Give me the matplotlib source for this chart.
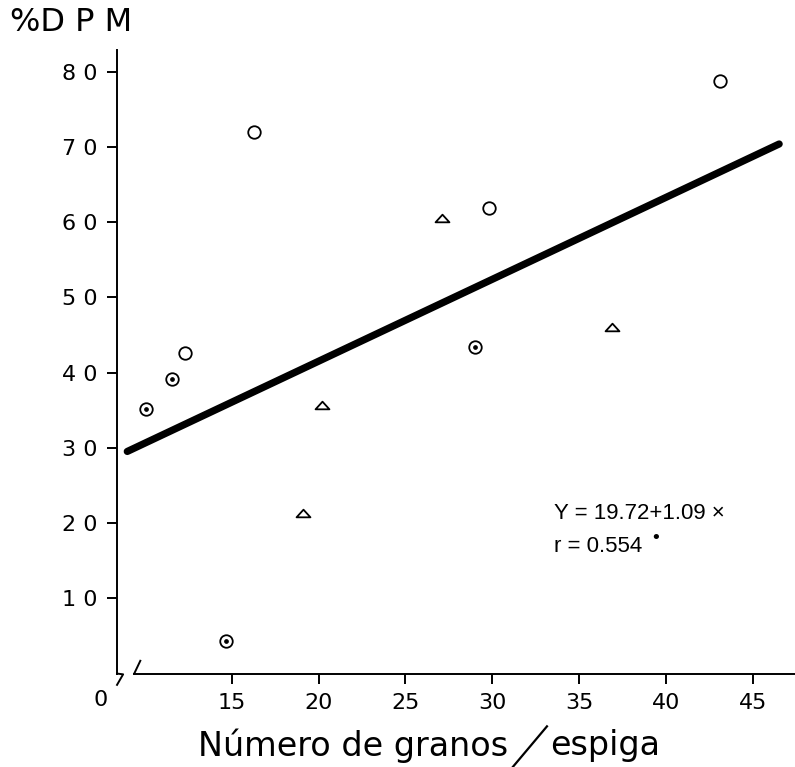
import numpy as np
import matplotlib
matplotlib.use("Agg")
import matplotlib.pyplot as plt
from matplotlib.path import Path

plt.rcParams['font.family'] = ['DejaVu Sans']

# datos: porcentaje DPM frente a granos por espiga
x_abiertos = [12.3, 16.3, 29.8, 43.1]
y_abiertos = [42.6, 72.0, 61.9, 78.8]

x_punto = [10.1, 11.6, 14.7, 29.0]
y_punto = [35.2, 39.2, 4.3, 43.4]

x_triang = [27.1, 20.2, 19.1, 36.9]
y_triang = [60.6, 35.7, 21.4, 46.1]

# recta de regresion
a, b = 19.72, 1.09
x_recta = [9.0, 46.5]

xticks = [15, 20, 25, 30, 35, 40, 45]
yticks = [10, 20, 30, 40, 50, 60, 70, 80]
ytick_labels = ["1 0", "2 0", "3 0", "4 0", "5 0", "6 0", "7 0", "8 0"]

fig = plt.figure(figsize=(7.95, 7.67), dpi=100)
ax = fig.add_axes([0.1472, 0.1218, 0.853, 0.813])
ax.set_xlim(8.41, 47.42)
ax.set_ylim(0, 82.9)

for s in ['top', 'right']:
    ax.spines[s].set_visible(False)
ax.spines['left'].set_linewidth(1.4)
ax.spines['bottom'].set_linewidth(1.4)
ax.spines['bottom'].set_bounds(9.4, 47.42)

ax.set_xticks(xticks)
ax.set_xticklabels([str(t) for t in xticks], fontsize=16)
ax.set_yticks(yticks)
ax.set_yticklabels(ytick_labels, fontsize=16)
ax.tick_params(direction='out', length=7, width=1.4, pad=7)

# cortes de los ejes
ax.plot([8.41, 8.76, 8.41], [0, -0.1, -1.5], color='black', lw=1.4, clip_on=False)
ax.plot([9.4, 9.75], [0, 1.7], color='black', lw=1.4, clip_on=False)

xr = np.array(x_recta)
ax.plot(xr, a + b * xr, color='black', lw=5.2, solid_capstyle='round')

ax.plot(x_abiertos, y_abiertos, 'o', ms=9, mfc='white', mec='black', mew=1.3)
ax.plot(x_punto, y_punto, 'o', ms=9, mfc='white', mec='black', mew=1.3)
ax.plot(x_punto, y_punto, 'o', ms=2.4, color='black')

tri = Path([(-1, -0.55), (1, -0.55), (0, 0.55), (-1, -0.55)],
           [Path.MOVETO, Path.LINETO, Path.LINETO, Path.CLOSEPOLY])
ax.plot(x_triang, y_triang, marker=tri, ls='none', ms=10, mfc='white',
        mec='black', mew=1.3)

ecu = dict(fontsize=16, va='center', family='Liberation Sans')
fig.text(0.697, 0.331, "Y = 19.72+1.09 ×", **ecu)
fig.text(0.697, 0.287, "r = 0.554", **ecu)
fig.text(0.818, 0.298, "•", fontsize=13, va='center')

fig.text(0.012, 0.971, "%D P M", fontsize=23, va='center', ha='left')
fig.text(0.126, 0.087, "0", fontsize=16, va='center', ha='center')

fig.text(0.249, 0.028, "Número de granos", fontsize=24, va='center', ha='left')
fig.text(0.692, 0.028, "espiga", fontsize=24, va='center', ha='left')
fig.add_artist(plt.Line2D([0.645, 0.688], [0.0, 0.053], color='black', lw=1.6,
                          transform=fig.transFigure))

fig.savefig("out.png", dpi=100, facecolor='white')
